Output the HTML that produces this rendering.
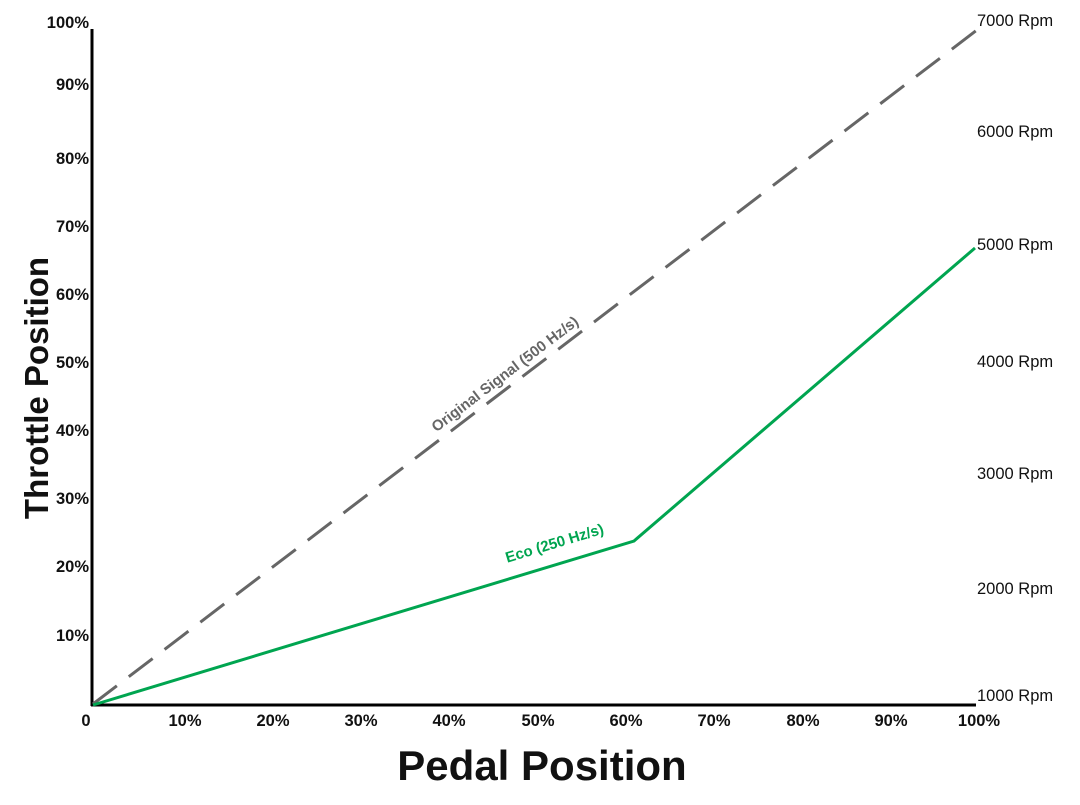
<!DOCTYPE html>
<html><head><style>
html,body{margin:0;padding:0;background:#fff;}
svg text{font-family:"Liberation Sans",sans-serif;}
</style></head><body>
<svg width="1080" height="800" viewBox="0 0 1080 800" xmlns="http://www.w3.org/2000/svg">
<line x1="92" y1="706" x2="92" y2="29" stroke="#000" stroke-width="3"/>
<line x1="91" y1="705" x2="976" y2="705" stroke="#000" stroke-width="3"/>
<line x1="93" y1="704" x2="977" y2="30" stroke="#666" stroke-width="3" stroke-dasharray="30,15"/>
<polyline points="93,705 634,541 975,248" fill="none" stroke="#00a550" stroke-width="3"/>
<g font-size="16.5" font-weight="bold" text-anchor="end" fill="#111">
<text x="89" y="28">100%</text>
<text x="89" y="90">90%</text>
<text x="89" y="164">80%</text>
<text x="89" y="232">70%</text>
<text x="89" y="300">60%</text>
<text x="89" y="368">50%</text>
<text x="89" y="436">40%</text>
<text x="89" y="504">30%</text>
<text x="89" y="572">20%</text>
<text x="89" y="641">10%</text>
</g>
<g font-size="16.5" font-weight="bold" text-anchor="middle" fill="#111">
<text x="86" y="726">0</text>
<text x="185" y="726">10%</text>
<text x="273" y="726">20%</text>
<text x="361" y="726">30%</text>
<text x="449" y="726">40%</text>
<text x="538" y="726">50%</text>
<text x="626" y="726">60%</text>
<text x="714" y="726">70%</text>
<text x="803" y="726">80%</text>
<text x="891" y="726">90%</text>
<text x="979" y="726">100%</text>
</g>
<g font-size="16.5" fill="#111">
<text x="977" y="26">7000 Rpm</text>
<text x="977" y="137">6000 Rpm</text>
<text x="977" y="250">5000 Rpm</text>
<text x="977" y="367">4000 Rpm</text>
<text x="977" y="479">3000 Rpm</text>
<text x="977" y="594">2000 Rpm</text>
<text x="977" y="701">1000 Rpm</text>
</g>
<text x="542" y="780" font-size="42" font-weight="bold" text-anchor="middle" fill="#111">Pedal Position</text>
<text transform="translate(48,388) rotate(-90)" font-size="33" font-weight="bold" text-anchor="middle" fill="#111">Throttle Position</text>
<text transform="translate(508,378) rotate(-37.3)" font-size="15" font-weight="bold" text-anchor="middle" fill="#666">Original Signal (500 Hz/s)</text>
<text transform="translate(556,548) rotate(-16.8)" font-size="15" font-weight="bold" text-anchor="middle" fill="#00a550">Eco (250 Hz/s)</text>
</svg>
</body></html>
